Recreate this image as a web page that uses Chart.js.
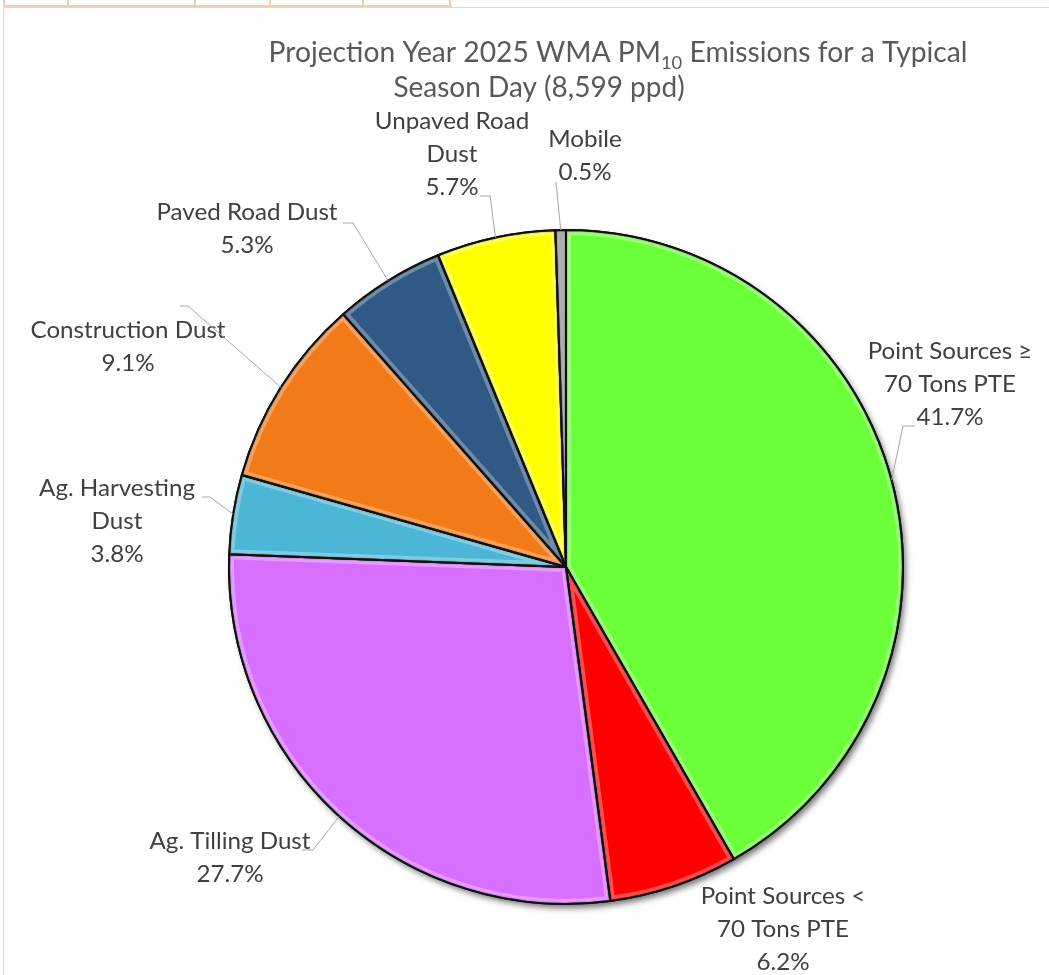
<!DOCTYPE html>
<html>
<head>
<meta charset="utf-8">
<script src="https://cdn.jsdelivr.net/npm/chart.js@4.4.1/dist/chart.umd.min.js"></script>
<style>
    body { margin: 0; background: #fff; }
    #wrap { position: relative; width: 1049px; height: 975px; overflow: hidden; background: #fff; }
    #wrap canvas { position: absolute; left: 0; top: 0; }
    .rule { position: absolute; }
</style>
</head>
<body>
<div id="wrap">
    <canvas id="pieChart" width="1049" height="975"></canvas>
    <!-- bits of the table above the chart -->
    <div class="rule" style="left:3px;top:5px;width:449px;height:2px;background:#f8cbad"></div>
    <div class="rule" style="left:3px;top:0;width:2px;height:6px;background:#f8cbad"></div>
    <div class="rule" style="left:67px;top:0;width:2px;height:6px;background:#f8cbad"></div>
    <div class="rule" style="left:194px;top:0;width:2px;height:6px;background:#f8cbad"></div>
    <div class="rule" style="left:269px;top:0;width:2px;height:6px;background:#f8cbad"></div>
    <div class="rule" style="left:362px;top:0;width:2px;height:6px;background:#f8cbad"></div>
    <div class="rule" style="left:449px;top:0;width:2px;height:6px;background:#f8cbad"></div>
    <div class="rule" style="left:3px;top:7px;width:1046px;height:1px;background:#d9d9d9"></div>
    <div class="rule" style="left:3px;top:7px;width:1px;height:968px;background:#d9d9d9"></div>
</div>
<script>
// Data
const categories = [
    ['Point Sources \u2265', '70 Tons PTE'],
    ['Point Sources <', '70 Tons PTE'],
    ['Ag. Tilling Dust'],
    ['Ag. Harvesting', 'Dust'],
    ['Construction Dust'],
    ['Paved Road Dust'],
    ['Unpaved Road', 'Dust'],
    ['Mobile']
];
const shares = [41.7, 6.2, 27.7, 3.8, 9.1, 5.3, 5.7, 0.5];
const sliceColors = ['#6bff3a', '#ff0000', '#d86fff', '#4cb6d6', '#f27a18', '#305a85', '#ffff00', '#8c8c8c'];

const titleMain = 'Projection Year 2025 WMA PM';
const titleSub = '10';
const titleRest = ' Emissions for a Typical';
const titleLine2 = 'Season Day (8,599 ppd)';

// where each label sits, and the leader points next to the text (arc end is computed)
const labelLayout = [
    { x: 950, y: 352, leader: [[915, 426], [903, 426]] },
    { x: 783, y: 897, leader: null },
    { x: 230, y: 842, leader: [[302, 850], [313, 850]] },
    { x: 117, y: 489, leader: [[202, 497], [210, 497]] },
    { x: 128, y: 331, leader: [[180, 306], [188, 306]] },
    { x: 247, y: 213, leader: [[343, 223], [353, 223]] },
    { x: 452, y: 122, leader: [[480, 196], [490, 196]] },
    { x: 585, y: 140, leader: [[556, 182]] }
];

const FONT = 'Lato, "Open Sans", sans-serif';
const TITLE_PX = 28;
const LABEL_PX = 23;
const LINE_GAP = 33;

// Lato runs wider than the original font, so text is drawn a bit narrower
function squeezed(ctx, text, x, y, sx) {
    ctx.save();
    ctx.translate(x, y);
    ctx.scale(sx, 1);
    ctx.fillText(text, 0, 0);
    ctx.restore();
}

function arcPath(ctx, el) {
    ctx.beginPath();
    ctx.arc(el.x, el.y, el.outerRadius, el.startAngle, el.endAngle);
    ctx.lineTo(el.x, el.y);
    ctx.closePath();
}

const pieShadow = {
    id: 'pieShadow',
    beforeDatasetsDraw(chart) {
        const el = chart.getDatasetMeta(0).data[0];
        if (!el) return;
        const ctx = chart.ctx;
        ctx.save();
        ctx.shadowColor = 'rgba(0,0,0,0.55)';
        ctx.shadowBlur = 6;
        ctx.shadowOffsetX = 3;
        ctx.shadowOffsetY = 4;
        ctx.fillStyle = '#000';
        ctx.beginPath();
        ctx.arc(el.x, el.y, el.outerRadius, 0, Math.PI * 2);
        ctx.fill();
        ctx.restore();
    }
};

const bevel = {
    id: 'bevel',
    afterDatasetsDraw(chart) {
        const ctx = chart.ctx;
        chart.getDatasetMeta(0).data.forEach(el => {
            ctx.save();
            arcPath(ctx, el);
            ctx.clip();
            arcPath(ctx, el);
            ctx.strokeStyle = 'rgba(255,255,255,0.3)';
            ctx.lineWidth = 10;
            ctx.stroke();
            arcPath(ctx, el);
            ctx.strokeStyle = 'rgba(0,0,0,0.12)';
            ctx.lineWidth = 4;
            ctx.stroke();
            ctx.restore();
            ctx.save();
            arcPath(ctx, el);
            ctx.strokeStyle = '#111';
            ctx.lineWidth = 2;
            ctx.lineJoin = 'round';
            ctx.stroke();
            ctx.restore();
        });
    }
};

const labelsAndTitle = {
    id: 'labelsAndTitle',
    afterDraw(chart) {
        const ctx = chart.ctx;
        ctx.save();
        ctx.textBaseline = 'middle';

        // title, line one with a subscript
        const subPx = TITLE_PX * 0.65;
        ctx.font = `${TITLE_PX}px ${FONT}`;
        const wA = ctx.measureText(titleMain).width;
        const wC = ctx.measureText(titleRest).width;
        ctx.font = `${subPx}px ${FONT}`;
        const wB = ctx.measureText(titleSub).width;
        const sx = 699 / (wA + wB + wC);
        const x0 = 618 - 699 / 2;
        ctx.fillStyle = '#595959';
        ctx.textAlign = 'left';
        ctx.font = `${TITLE_PX}px ${FONT}`;
        squeezed(ctx, titleMain, x0, 53, sx);
        squeezed(ctx, titleRest, x0 + (wA + wB) * sx, 53, sx);
        ctx.font = `${subPx}px ${FONT}`;
        squeezed(ctx, titleSub, x0 + wA * sx, 63, sx);

        ctx.font = `${TITLE_PX}px ${FONT}`;
        ctx.textAlign = 'center';
        ctx.fillText(titleLine2, 539, 88);

        // slice labels
        ctx.font = `${LABEL_PX}px ${FONT}`;
        const lsx = 181 / ctx.measureText('Paved Road Dust').width;
        ctx.fillStyle = '#404040';
        const arcs = chart.getDatasetMeta(0).data;
        arcs.forEach((el, i) => {
            const lay = labelLayout[i];
            const lines = categories[i].concat([shares[i].toFixed(1) + '%']);
            lines.forEach((t, k) => squeezed(ctx, t, lay.x, lay.y + k * LINE_GAP, lsx));

            if (lay.leader) {
                const mid = (el.startAngle + el.endAngle) / 2;
                const ex = el.x + Math.cos(mid) * el.outerRadius;
                const ey = el.y + Math.sin(mid) * el.outerRadius;
                ctx.beginPath();
                ctx.moveTo(lay.leader[0][0], lay.leader[0][1]);
                lay.leader.slice(1).forEach(p => ctx.lineTo(p[0], p[1]));
                ctx.lineTo(ex, ey);
                ctx.strokeStyle = '#a6a6a6';
                ctx.lineWidth = 1;
                ctx.stroke();
            }
        });
        ctx.restore();
    }
};

new Chart(document.getElementById('pieChart'), {
    type: 'pie',
    data: {
        labels: categories,
        datasets: [{
            data: shares,
            backgroundColor: sliceColors,
            borderColor: '#111',
            borderWidth: 2
        }]
    },
    options: {
        responsive: false,
        animation: false,
        layout: { padding: { left: 228, right: 145, top: 229, bottom: 70 } },
        plugins: {
            legend: { display: false },
            title: { display: false },
            tooltip: { enabled: false }
        }
    },
    plugins: [pieShadow, bevel, labelsAndTitle]
});
</script>
</body>
</html>
